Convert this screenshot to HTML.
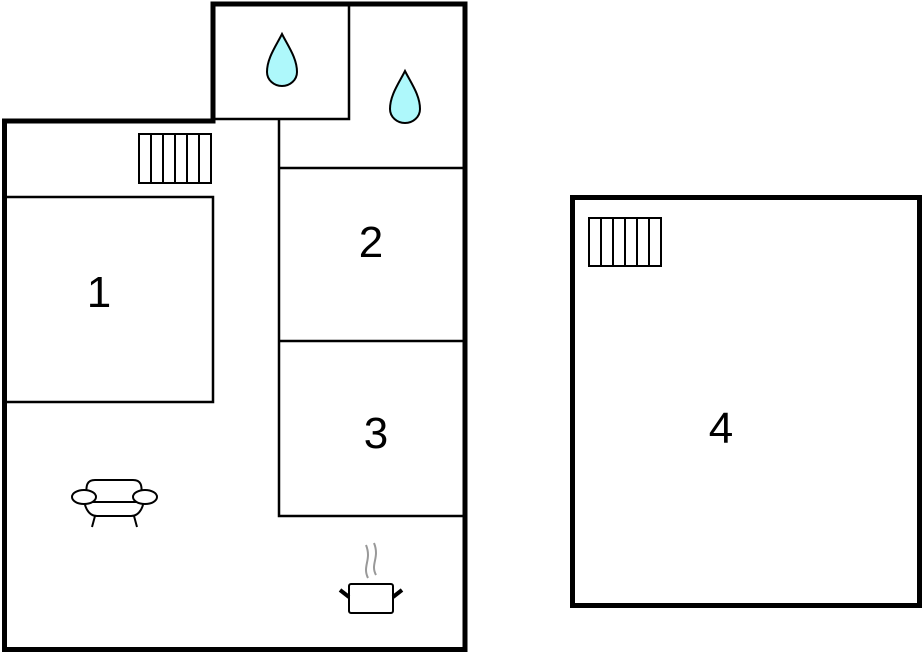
<!DOCTYPE html>
<html><head><style>html,body{margin:0;padding:0;background:#fff;width:923px;height:652px;overflow:hidden}</style></head>
<body>
<svg width="923" height="652" xmlns="http://www.w3.org/2000/svg" style="display:block">
<g fill="none" stroke="#000">
<path d="M4.5 121 H213 V4 H465 V649.5 H4.5 Z" stroke-width="5"/>
<path d="M213 119 H349 V4" stroke-width="2.5"/>
<path d="M279 119 V516 H465 M279 168 H465 M279 341 H465" stroke-width="2.5"/>
<path d="M4 197 H213 V402 H4" stroke-width="2.5"/>
<rect x="572.5" y="197.5" width="347" height="408" stroke-width="5"/>
<g stroke-width="2">
<rect x="139" y="134" width="72" height="49"/>
<path d="M151 134V183M163 134V183M175 134V183M187 134V183M199 134V183"/>
<rect x="589" y="218" width="72" height="48"/>
<path d="M601 218V266M613 218V266M625 218V266M637 218V266M649 218V266"/>
</g>
<g fill="#aef8fb" stroke-width="2">
<path d="M282 34 C276 46 267 58 267 72 C267 80 274 86 282 86 C290 86 297 80 297 72 C297 58 288 46 282 34 Z"/>
<path d="M405 71 C399 83 390 95 390 109 C390 117 397 123 405 123 C413 123 420 117 420 109 C420 95 411 83 405 71 Z"/>
</g>
<g stroke-width="2">
<path d="M87 497 C85 484 88 480 95 480 H133 C140 480 143 484 141 497"/>
<path d="M84 497 C84 506 88 516 97 516 H131 C140 516 144 506 144 497"/>
<ellipse cx="84" cy="497" rx="12" ry="7" fill="#fff"/>
<ellipse cx="145" cy="497" rx="12" ry="7" fill="#fff"/>
<path d="M92 502 H137 M95 516 L92 527 M134 516 L137 527"/>
<rect x="349" y="584" width="44" height="29" rx="2"/>
<path d="M340 590 L349 597 M402 590 L393 597" stroke-width="4"/>
<path d="M368 578 C362 566 372 560 366 545 M376 575 C370 564 380 558 374 543" stroke="#999" stroke-width="2"/>
</g>
</g>
<g font-family="Liberation Sans, sans-serif" font-size="44" fill="#000" text-anchor="middle">
<text x="99" y="307">1</text>
<text x="371" y="257">2</text>
<text x="376" y="448">3</text>
<text x="721" y="443">4</text>
</g>
</svg>
</body></html>
